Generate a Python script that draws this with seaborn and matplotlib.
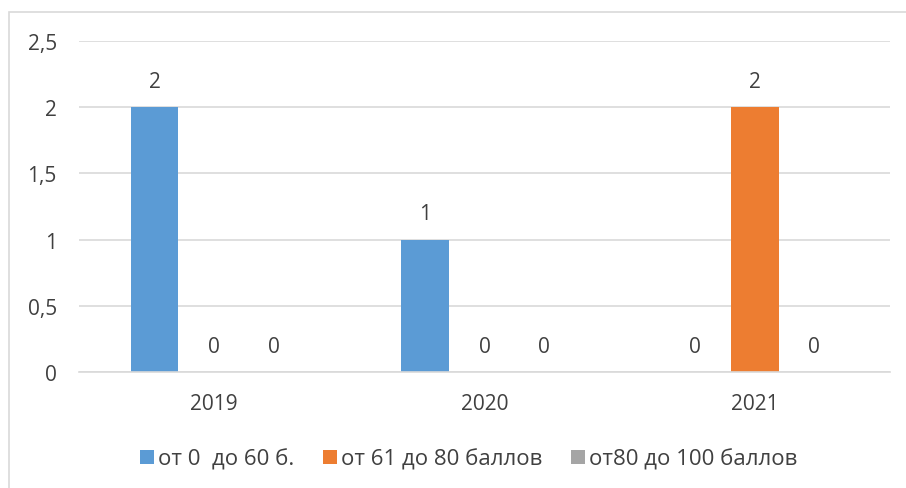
import matplotlib
matplotlib.use("Agg")
import matplotlib.pyplot as plt
import seaborn as sns
import pandas as pd
from matplotlib.patches import Rectangle

years = ["2019", "2020", "2021"]
series = ["от 0  до 60 б.", "от 61 до 80 баллов", "от80 до 100 баллов"]
vals_0_60 = [2, 1, 0]
vals_61_80 = [0, 0, 2]
vals_80_100 = [0, 0, 0]
colors = ["#5B9BD5", "#ED7D31", "#A5A5A5"]

rows = []
for s, vals in zip(series, [vals_0_60, vals_61_80, vals_80_100]):
    for y, v in zip(years, vals):
        rows.append({"year": y, "series": s, "value": v})
df = pd.DataFrame(rows)

sns.set_theme(style="white")
plt.rcParams['font.family'] = ['Open Sans', 'DejaVu Sans']
txt = "#404040"
fs = 15

fig = plt.figure(figsize=(9.06, 4.89), dpi=100)
ax = fig.add_axes([79/906, 1-373/489, (890-79)/906, (373-42)/489])

sns.barplot(data=df, x="year", y="value", hue="series", hue_order=series,
            order=years, palette=colors, width=0.66, gap=0.2,
            ax=ax, legend=True, saturation=1, linewidth=0)

ax.set_ylim(0, 2.5)
ax.set_yticks([0, 0.5, 1, 1.5, 2, 2.5])
ax.set_yticklabels(["0", "0,5", "1", "1,5", "2", "2,5"])
ax.yaxis.grid(True, color="#D9D9D9", linewidth=1.2)
ax.set_axisbelow(True)
for sp in ["top", "right", "left"]:
    ax.spines[sp].set_visible(False)
ax.spines["bottom"].set_color("#D9D9D9")
ax.spines["bottom"].set_linewidth(1.2)
ax.set_xlabel("")
ax.set_ylabel("")
ax.tick_params(axis="both", length=0, labelsize=fs, colors=txt)
ax.tick_params(axis="x", pad=15)
ax.tick_params(axis="y", pad=16)

for c in ax.containers:
    ax.bar_label(c, labels=[f"{int(v)}" for v in c.datavalues],
                 padding=11, fontsize=fs, color=txt)

h, l = ax.get_legend_handles_labels()
ax.get_legend().remove()
fig.legend(h, l, loc="center", bbox_to_anchor=(469/906, 1-460/489), ncol=3,
           frameon=False, fontsize=16, handlelength=0.6, handleheight=0.6,
           handletextpad=0.2, columnspacing=1.3, labelcolor=txt)

fig.patches.append(Rectangle((8.5/906, -0.1), 1.2, 1.1-12.5/489,
                             transform=fig.transFigure, fill=False,
                             edgecolor="#D9D9D9", linewidth=1.2))

fig.savefig("out.png", dpi=100)
